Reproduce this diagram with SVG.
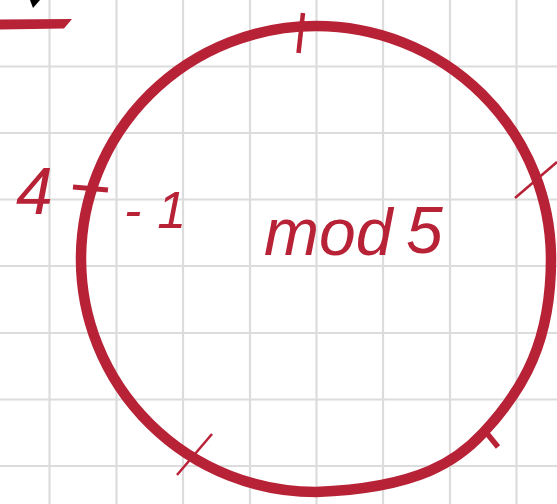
<svg xmlns="http://www.w3.org/2000/svg" width="557" height="504" viewBox="0 0 557 504">
<style>
.grid{stroke:#dcdcdc;stroke-width:2.2;fill:none}
.ink{fill:#b82237}
.thick{stroke:#b82237;fill:none;stroke-linecap:butt}
.thin{stroke:#b82237;fill:none;stroke-width:2.5}
.hand{font-family:"Liberation Sans",Arial,sans-serif;fill:#b82237;font-style:italic}
</style>
<rect width="557" height="504" fill="#ffffff"/>
<g id="grid">
<path class="grid" d="M49.5 0V504M116.5 0V504M183 0V504M250 0V504M316.5 0V504M383 0V504M450 0V504M516.5 0V504"/>
<path class="grid" d="M0 66.5H557M0 133H557M0 199.5H557M0 266H557M0 333H557M0 399.5H557M0 466H557"/>
</g>
<g id="topleft">
<polygon points="0,19.5 72,19 64,28.5 0,29.5" class="ink"/>
<polygon points="30,0 40,0 33,8" fill="#000"/>
</g>
<g id="circle">
<path class="thick" stroke-width="10.5" d="M551 259 C551 340 525 388 483 433 C458 460 420 488 316 492 A235 233 0 0 1 81 259 A235 233 0 0 1 316 26 A235 233 0 0 1 551 259 Z"/>
</g>
<g id="ticks">
<line x1="303" y1="13" x2="298.5" y2="53" class="thick" stroke-width="4.5"/>
<line x1="73" y1="187" x2="108" y2="190" class="thick" stroke-width="5"/>
<line x1="515" y1="198" x2="557" y2="162" class="thin"/>
<line x1="177" y1="475" x2="212" y2="434" class="thin"/>
<line x1="485" y1="431" x2="498" y2="447" class="thick" stroke-width="5.5"/>
</g>
<g id="labels">
<text class="hand" x="16" y="214" font-size="66">4</text>
<text class="hand" x="124" y="228" font-size="52" letter-spacing="16">-1</text>
<text class="hand" x="264" y="255" font-size="66">mod</text>
<text class="hand" x="406" y="253" font-size="66">5</text>
</g>
</svg>
